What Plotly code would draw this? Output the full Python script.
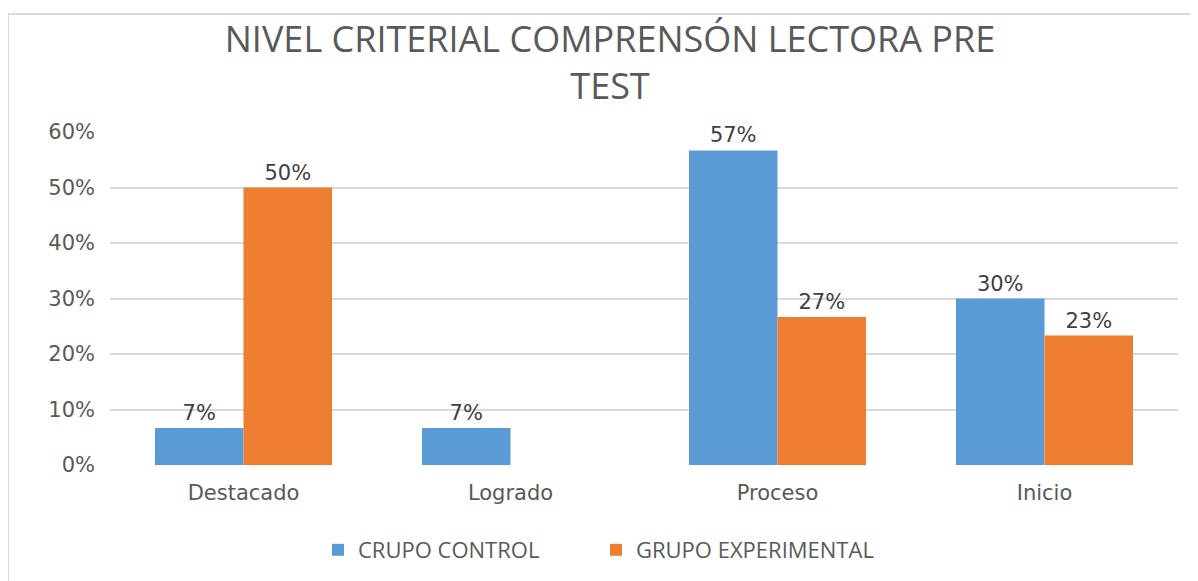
import plotly.graph_objects as go

categories = ["Destacado", "Logrado", "Proceso", "Inicio"]
control = [0.0667, 0.0667, 0.5667, 0.30]
experimental = [0.50, 0.0, 0.2667, 0.2333]
series_names = ["CRUPO CONTROL", "GRUPO EXPERIMENTAL"]
tick_vals = [0, 0.1, 0.2, 0.3, 0.4, 0.5, 0.6]
tick_text = ["0%", "10%", "20%", "30%", "40%", "50%", "60%"]
title_text = "NIVEL CRITERIAL COMPRENSÓN LECTORA PRE<br>TEST"

def labels(vals):
    return [f"{round(v*100):d}%" if v > 0 else "" for v in vals]

# page body has an 8px margin; work in screen pixels and convert
O = 8
W, H = 1198 - O, 581 - O
L, T = 110 - O, 132 - O
pw, ph = 1068, 333
R, B = W - L - pw, H - T - ph

def px(sx):
    return (sx - O - L) / pw

def py(sy):
    return (H - B - (sy - O)) / ph

fig = go.Figure()
for name, vals, color in [(series_names[0], control, "#5B9BD5"),
                          (series_names[1], experimental, "#ED7D31")]:
    fig.add_trace(go.Bar(
        x=categories, y=vals, name=name,
        marker=dict(color=color, line=dict(width=0)),
        text=labels(vals), textposition="outside", cliponaxis=False,
        textfont=dict(family="DejaVu Sans", size=21, color="#404040"),
    ))

fig.update_layout(
    width=W, height=H,
    margin=dict(l=L, r=R, t=T, b=B, autoexpand=False),
    paper_bgcolor="white", plot_bgcolor="white",
    barmode="group", bargap=0.337, bargroupgap=0,
    title=dict(text=title_text, xref="container", x=(610 - O) / W, xanchor="center",
               yref="container", y=1 - (52 - O) / H, yanchor="middle",
               font=dict(family="Open Sans", size=36, color="#595959")),
    showlegend=True,
    legend=dict(orientation="h", x=px(318), xanchor="left", y=py(550), yanchor="middle",
                font=dict(family="Open Sans", size=22, color="#595959"),
                entrywidth=233, entrywidthmode="pixels", traceorder="normal"),
    xaxis=dict(showline=False, ticks="", ticklabelstandoff=13,
               tickfont=dict(family="DejaVu Sans", size=21, color="#595959")),
    yaxis=dict(range=[0, 0.6], tickvals=tick_vals, ticktext=tick_text,
               showgrid=True, gridcolor="#D9D9D9", gridwidth=2, zeroline=False,
               showline=False, ticks="", ticklabelstandoff=14,
               tickfont=dict(family="DejaVu Sans", size=21, color="#595959")),
    shapes=[dict(type="rect", xref="paper", yref="paper",
                 x0=px(8), x1=px(1215), y0=py(600), y1=py(14),
                 line=dict(color="#D9D9D9", width=2), fillcolor="rgba(0,0,0,0)", layer="below")],
)

fig.write_html("out.html")
